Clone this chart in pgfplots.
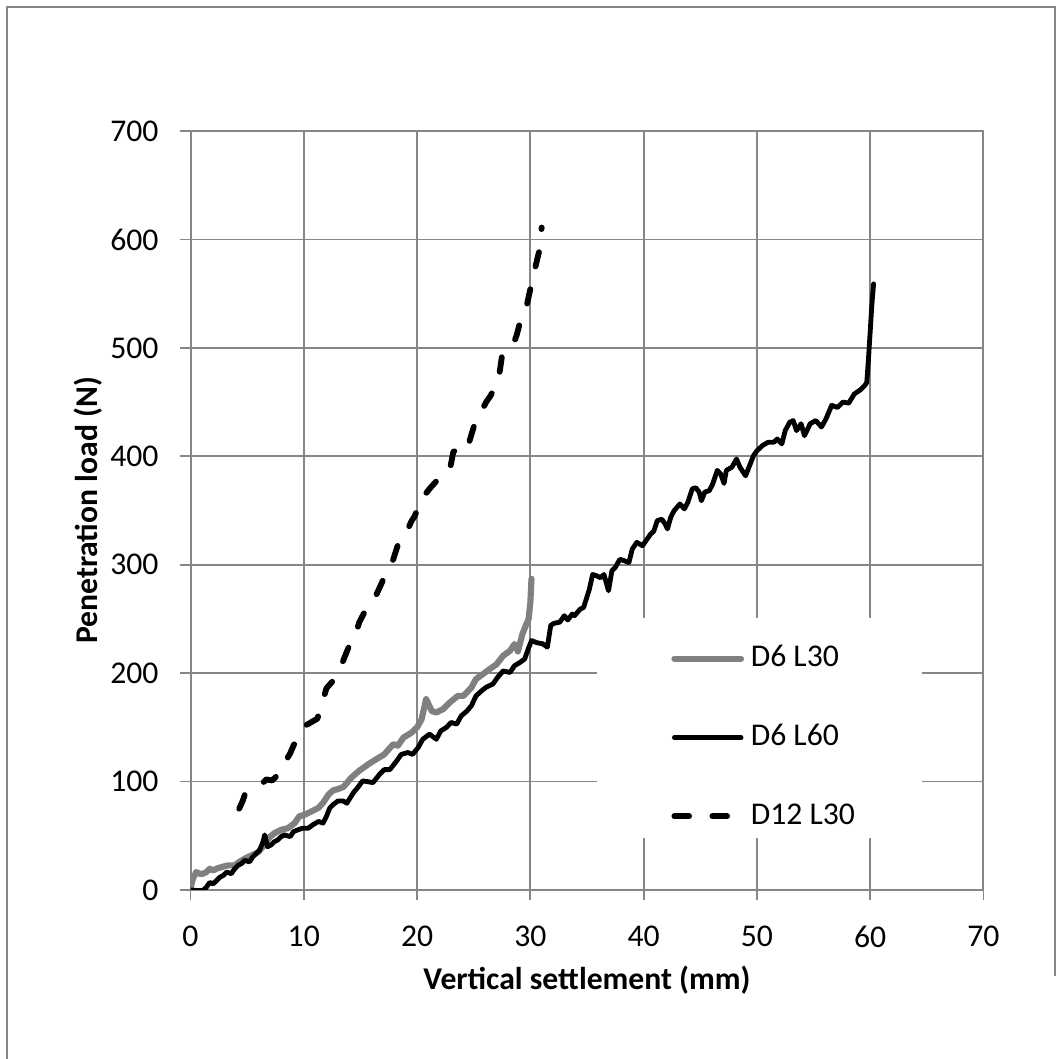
\documentclass[border=0pt]{standalone}
\usepackage{fontspec}
\setmainfont{Carlito}
\usepackage{pgfplots}
\pgfplotsset{compat=1.18}
\definecolor{gridgray}{RGB}{134,134,134}
\definecolor{seriesgray}{RGB}{128,128,128}
\newcommand{\chartfont}{\fontsize{9.5}{11.4}\selectfont}

\begin{document}
\begin{tikzpicture}
\path[use as bounding box] (0,0) rectangle (319.2pt,317.7pt);
% chart area frame
\draw[gridgray, line width=0.6pt] (2pt,0) -- (2pt,315.7pt) -- (316.5pt,315.7pt) -- (316.5pt,25pt);
\begin{axis}[
  at={(57.15pt,50.7pt)}, anchor=south west,
  scale only axis, width=237.9pt, height=227.7pt,
  xmin=0, xmax=70, ymin=0, ymax=700,
  xtick={0,10,...,70}, ytick={0,100,...,700},
  xtick pos=left, ytick pos=left,
  grid=major, grid style={gridgray, line width=0.55pt},
  axis line style={gridgray, line width=0.6pt},
  tick align=outside, major tick length=3pt,
  tick style={gridgray, line width=0.55pt},
  tick label style={font=\chartfont, text=black},
  /pgf/number format/assume math mode=true,
  yticklabel style={anchor=east, inner sep=0pt},
  xticklabel style={anchor=north, inner sep=0pt},
  yticklabel shift=6.4pt, xticklabel shift=7.5pt,
  label style={font=\chartfont\bfseries},
  xlabel={Vertical settlement (mm)},
  ylabel={Penetration load (N)},
  xlabel style={at={(axis description cs:0.5,-0.1186)}, anchor=center},
  ylabel style={at={(axis description cs:-0.1293,0.5)}, anchor=center},
  no markers,
  legend cell align=left,
  legend image code/.code={\draw[#1] (0pt,0pt) -- (20pt,0pt);},
  legend style={at={(axis description cs:0.6055,0.3274)}, anchor=north west,
    fill=none, draw=none, font=\chartfont, inner sep=0pt,
    row sep=13.8pt, nodes={inner sep=1pt},
    /tikz/every odd column/.append style={column sep=1pt}},
]
% white legend area over the grid
\fill[white] (axis description cs:0.5126,0.0685) rectangle (axis description cs:0.9224,0.3584);
\addplot[seriesgray, line width=1.85pt, line join=round, line cap=round] coordinates {
(0,0)(0.06,4)(0.2,10)(0.5,16.5)(0.8,15)(1.1,15)(1.4,16.5)(1.7,19.6)(2.0,18)(2.3,19.6)
(2.7,21)(3.3,22.7)(3.9,22.7)(4.3,25.9)(4.8,29)(5.4,32)(6.0,35)(6.5,41.4)(7.0,49)(7.4,52.3)
(8.0,55.5)(8.6,57)(9.2,61.7)(9.6,67.9)(10.1,69.5)(10.7,72.6)(11.3,75.7)(11.7,80.4)(12.2,88.2)
(12.6,92)(13.0,93)(13.5,95)(14.2,103.7)(14.9,110)(15.7,116)(16.4,120.6)(17.1,125)(17.9,134.5)
(18.3,133)(18.8,140.6)(19.5,145)(20.0,150)(20.4,157.5)(20.8,176)(21.3,165)(21.7,163.7)
(22.3,166.8)(22.9,173)(23.6,179)(24.1,179)(24.8,186.8)(25.2,194.5)(25.8,199)(26.4,203.7)
(27.0,208)(27.6,216)(28.2,220.6)(28.6,226.8)(28.9,220)(29.3,236)(29.6,244)(29.85,250)
(30.0,265)(30.1,287)};
\addlegendentry{D6 L30}
\addplot[black, line width=1.45pt, line join=round, line cap=round] coordinates {
(0,0)(0.6,-0.5)(1.1,-0.5)(1.4,2.5)(1.7,7)(2.0,5.6)(2.3,8.7)(2.6,11.8)(2.9,13.4)(3.2,16.5)
(3.6,15)(3.9,19.6)(4.2,22.7)(4.5,24.3)(4.8,27.4)(5.2,25.9)(5.5,30.5)(5.8,33.6)(6.1,36.8)
(6.4,44.5)(6.55,50.8)(6.8,39.9)(7.1,41.4)(7.4,44.5)(7.7,46.1)(8.0,49.2)(8.3,50.8)(8.8,49.2)
(9.1,53.9)(9.5,55.5)(9.9,57)(10.4,57)(10.8,60.1)(11.3,63.2)(11.7,61.7)(12.0,67.9)(12.3,75.7)
(12.6,78.8)(13.0,82)(13.5,82)(13.8,80)(14.1,85)(14.4,90)(14.8,95)(15.2,100.6)(15.6,100)
(16.1,99)(16.7,106.8)(17.1,111)(17.6,111)(18.2,119)(18.6,125)(19.2,126.8)(19.6,125)
(20.1,131.4)(20.5,139)(21.1,143.7)(21.7,139)(22.1,146.8)(22.6,150)(23.0,154.5)(23.5,153)
(23.9,160.6)(24.4,165)(24.8,170)(25.2,179)(25.7,183.7)(26.1,187)(26.7,190)(27.1,196)
(27.6,202)(28.2,200.6)(28.6,206.8)(29.1,210)(29.5,213)(29.8,222)(30.1,230)(30.6,228)
(31.1,227)(31.5,224)(31.8,244)(32.1,246)(32.6,247)(33.0,253)(33.3,249)(33.7,254.5)
(33.9,253)(34.4,259)(34.7,260.6)(34.9,267)(35.2,277)(35.5,291)(35.8,290)(36.2,288)
(36.5,291)(36.9,276)(37.2,294.5)(37.5,297.5)(37.9,305)(38.2,304)(38.7,302)(39.0,314.5)
(39.4,320.6)(39.9,317.5)(40.2,322)(40.6,328)(40.9,331)(41.2,340.6)(41.6,342)(41.9,337.5)
(42.1,333)(42.4,344)(42.7,350)(43.2,356)(43.6,351.5)(43.9,357.5)(44.3,370)(44.6,371)
(44.9,367)(45.1,359)(45.4,367)(45.8,368.3)(46.1,374.5)(46.5,387)(46.8,383.7)(47.1,375)
(47.3,387)(47.8,390)(48.2,397.5)(48.5,390)(49.0,382)(49.3,390)(49.7,400.6)(50.0,405)
(50.5,410)(51.0,413)(51.5,413)(51.8,416)(52.2,411.4)(52.5,423.7)(52.9,431.4)(53.2,433)
(53.5,423.7)(53.9,430)(54.2,419)(54.7,430)(55.2,433)(55.7,427)(56.1,434.5)(56.6,447)
(57.1,445)(57.6,450)(58.1,449)(58.6,457.5)(59.1,461)(59.5,465)(59.7,468)(59.85,490)
(60.0,515)(60.15,540)(60.3,559)};
\addlegendentry{D6 L60}
\addplot[black, line width=1.75pt, line join=round, line cap=round, dash pattern=on 4.4pt off 7pt] coordinates {
(4.3,75)(4.6,82)(4.8,88)(5.2,90)(5.7,93)(6.3,98)(6.7,102)(7.2,101)(7.8,107)(8.1,110)
(8.4,119)(8.8,126)(9.0,131)(9.4,140)(9.8,146)(10.2,152)(10.7,155)(11.2,158)(11.5,168)
(12.0,186)(12.5,192)(13.0,200)(13.5,212)(14.0,225)(14.4,230)(14.9,247)(15.4,257)(15.8,265)
(16.3,270)(16.7,279)(17.3,293)(17.9,305)(18.3,318)(18.7,322)(19.1,331)(19.5,340)(19.8,345)
(20.4,362)(20.8,366)(21.1,370)(21.7,377)(22.3,380)(22.9,388)(23.2,404)(23.8,408)(24.4,406)
(25.0,427)(25.7,442)(26.1,450)(26.5,456)(27.2,471)(27.5,493)(28.4,500)(28.8,512)(29.1,524)
(29.7,540)(30.1,559)(30.5,577)(30.8,590)(31.0,611)};
\addlegendentry{D12 L30}
\end{axis}
\end{tikzpicture}
\end{document}
